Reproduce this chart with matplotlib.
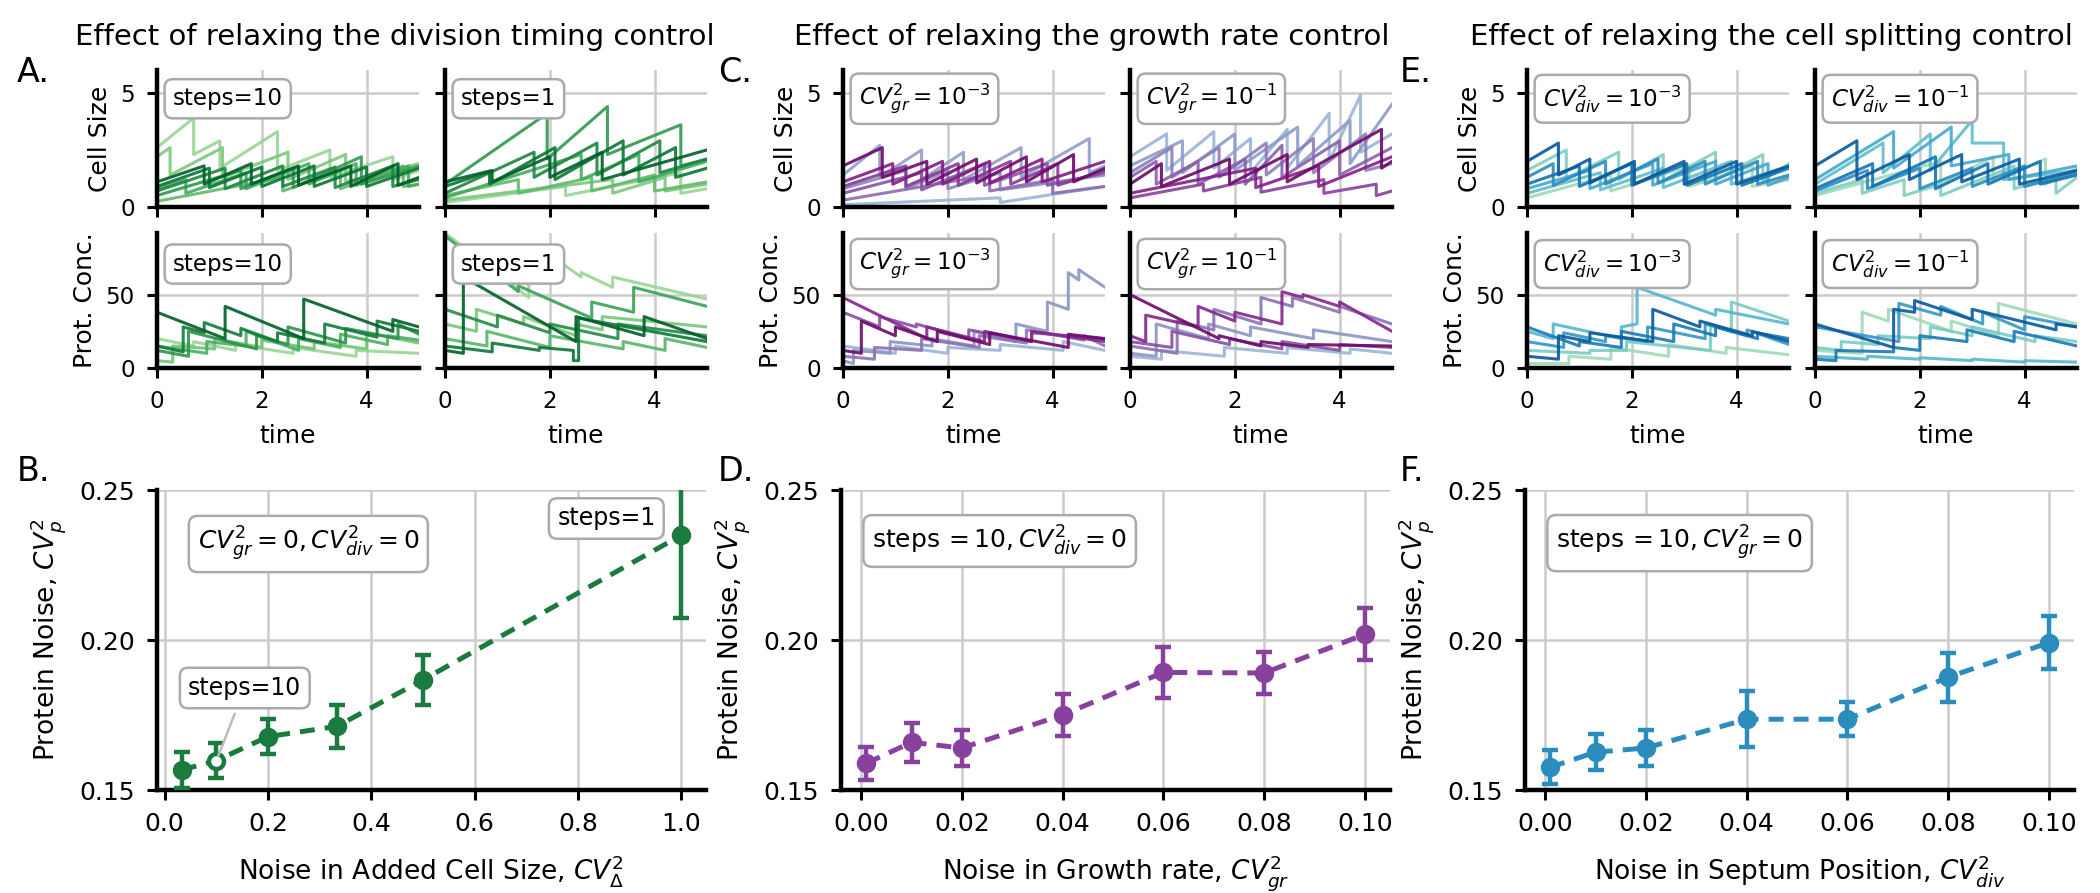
import numpy as np
import matplotlib
matplotlib.use("Agg")
import matplotlib.pyplot as plt

# ---- bottom row data ----
B_x = [0.033, 0.1, 0.2, 0.333, 0.5, 1.0]
B_y = [0.1567, 0.1598, 0.1678, 0.1712, 0.1867, 0.2349]
B_err = [0.0060, 0.0058, 0.0058, 0.0072, 0.0083, 0.0274]

D_x = [0.001, 0.01, 0.02, 0.04, 0.06, 0.08, 0.10]
D_y = [0.1589, 0.1659, 0.1640, 0.1750, 0.1892, 0.1890, 0.2019]
D_err = [0.0055, 0.0065, 0.0060, 0.0071, 0.0085, 0.0069, 0.0087]

F_x = [0.001, 0.01, 0.02, 0.04, 0.06, 0.08, 0.10]
F_y = [0.1576, 0.1626, 0.1640, 0.1736, 0.1736, 0.1876, 0.1991]
F_err = [0.0057, 0.0060, 0.0059, 0.0094, 0.0057, 0.0082, 0.0088]

# ---- trajectories: (start value, [(t, value before jump, value after jump), ...], value at t=5) ----
A_size_left = [
    (2.6, [(0.7, 3.9, 2.3), (1.2, 2.9, 1.7), (2.3, 3.3, 1.6), (3.3, 2.5, 1.3), (4.5, 2.2, 1.2)], 1.6),
    (2.2, [(0.25, 2.6, 1.4), (1.25, 2.6, 1.3), (2.5, 2.4, 1.2), (3.6, 2.3, 1.1)], 1.9),
    (0.25, [(2.4, 1.3, 0.7), (3.5, 1.6, 0.8), (4.7, 1.8, 0.9)], 1.0),
    (0.8, [(0.55, 1.2, 0.6), (1.7, 1.5, 0.8), (2.9, 1.9, 1.0), (3.8, 1.9, 0.95), (4.8, 1.8, 0.9)], 1.0),
    (0.5, [(1.6, 1.6, 0.8), (2.6, 1.7, 0.85), (3.9, 2.2, 1.0)], 1.8),
    (0.7, [(1.3, 1.7, 0.8), (2.4, 1.8, 0.9), (3.4, 1.75, 0.85), (4.5, 1.8, 0.9)], 1.2),
    (0.9, [(1.0, 1.7, 0.85), (2.0, 1.75, 0.9), (3.0, 1.8, 0.9), (4.0, 1.75, 0.9)], 1.7),
    (1.1, [(0.9, 1.8, 1.0), (1.8, 1.9, 1.0), (2.7, 1.8, 0.95), (3.7, 1.8, 0.9), (4.6, 1.9, 0.95)], 1.3),
]
A_size_right = [
    (0.2, [(2.3, 0.9, 0.5), (4.5, 1.5, 0.6)], 0.8),
    (0.3, [(3.2, 1.2, 0.6), (4.2, 1.3, 0.7)], 1.0),
    (0.5, [(1.4, 1.2, 0.6), (2.8, 1.3, 0.7), (4.0, 1.4, 0.7)], 1.1),
    (0.4, [(2.6, 2.3, 1.2), (3.7, 2.3, 1.1)], 2.0),
    (1.0, [(1.95, 4.1, 2.1), (3.1, 4.4, 2.3), (4.5, 3.6, 1.8)], 2.1),
    (0.6, [(1.7, 2.4, 1.3), (2.9, 2.8, 1.4), (4.1, 2.9, 1.5)], 2.1),
    (0.9, [(0.85, 1.55, 1.0), (2.1, 2.6, 1.2), (3.4, 2.9, 1.4), (4.4, 2.6, 1.3)], 1.7),
    (1.1, [(0.9, 1.6, 1.1), (2.0, 2.2, 1.3), (3.0, 2.4, 1.2)], 2.5),
]
A_conc_left = [
    (20, [(0.7, 15, 18), (1.5, 12, 16), (2.6, 10, 14), (3.8, 8, 12)], 10),
    (5, [(0.3, 4, 15), (1.1, 13, 20), (2.0, 14, 19), (3.0, 13, 18), (4.0, 13, 24)], 17),
    (15, [(0.95, 10, 18), (1.7, 15, 25), (2.7, 12, 20), (3.5, 14, 23), (4.4, 16, 22)], 19),
    (12, [(0.6, 8, 25), (1.9, 13, 22), (2.5, 16, 28), (3.6, 17, 27), (4.6, 20, 30)], 23),
    (15, [(0.5, 11, 28), (0.9, 24, 31), (1.6, 22, 27), (2.3, 18, 24), (3.2, 17, 30), (4.2, 21, 32)], 25),
    (38, [(1.3, 20, 42), (2.8, 20, 47), (4.5, 25, 33)], 28),
]
A_conc_right = [
    (92, [(1.6, 48, 70), (2.2, 62, 72), (2.6, 62, 65), (3.2, 55, 62)], 47),
    (30, [(0.6, 25, 40), (1.5, 30, 35), (2.5, 22, 30), (3.0, 26, 35)], 28),
    (20, [(0.8, 15, 25), (2.0, 14, 22), (3.4, 13, 18), (4.2, 12, 20)], 14),
    (90, [(1.4, 52, 56), (2.8, 34, 45), (3.6, 38, 55)], 42),
    (40, [(1.0, 28, 36), (2.0, 24, 30), (3.3, 20, 30)], 22),
    (15, [(0.9, 11, 17), (1.8, 12, 14), (2.45, 12, 5), (2.55, 5, 34)], 18),
    (12, [(0.35, 10, 62), (2.5, 18, 35), (3.8, 22, 35)], 20),
]
C_size_left = [
    (0.1, [(3.0, 0.4, 0.2)], 0.9),
    (1.4, [(0.7, 2.7, 1.3), (1.5, 2.5, 1.2), (2.3, 2.4, 1.2), (3.4, 2.6, 1.3), (4.7, 3.0, 1.5)], 1.8),
    (0.8, [(1.2, 1.6, 0.8), (2.0, 1.6, 0.8), (3.0, 1.5, 0.75)], 1.4),
    (0.3, [(2.8, 1.4, 0.7), (4.0, 1.2, 0.6)], 0.9),
    (0.6, [(1.5, 1.5, 0.75), (2.7, 1.9, 0.95), (3.9, 1.9, 0.95)], 1.5),
    (0.9, [(1.2, 1.8, 0.9), (2.2, 1.9, 0.95), (3.2, 2.0, 1.0), (4.1, 1.9, 0.95)], 1.6),
    (1.1, [(0.95, 1.9, 1.0), (1.9, 2.0, 1.0), (2.8, 2.0, 1.05), (3.8, 2.1, 1.1)], 2.0),
    (1.8, [(0.75, 2.6, 1.3), (1.6, 2.0, 1.0), (2.55, 2.1, 1.05), (3.5, 2.2, 1.1), (4.4, 2.3, 1.1)], 1.7),
]
C_size_right = [
    (2.2, [(0.7, 3.2, 1.6), (1.6, 3.3, 1.7), (2.3, 3.0, 1.5), (3.0, 3.4, 1.7), (3.8, 4.1, 2.0), (4.4, 4.9, 2.4)], 3.2),
    (1.8, [(1.0, 2.9, 1.5), (2.0, 3.2, 1.6), (3.2, 3.5, 1.8), (4.2, 3.8, 1.9)], 4.5),
    (1.5, [(0.8, 2.6, 1.3), (1.7, 2.6, 1.3), (2.6, 2.8, 1.4), (3.5, 3.0, 1.5), (4.5, 3.2, 1.6)], 1.9),
    (1.3, [(0.5, 2.0, 1.0), (1.3, 2.0, 1.0), (2.2, 2.1, 1.0), (2.9, 2.7, 1.3), (4.0, 2.9, 1.4)], 2.6),
    (0.4, [(1.4, 1.0, 0.7), (2.5, 1.3, 0.65), (3.7, 1.2, 0.6), (4.7, 1.0, 0.5)], 0.7),
    (0.6, [(2.4, 1.7, 0.85), (3.6, 1.8, 0.9)], 2.2),
    (1.0, [(0.6, 1.9, 0.9), (1.9, 2.1, 1.0), (3.0, 2.3, 1.1), (4.8, 3.4, 1.7)], 2.0),
]
C_conc_left = [
    (15, [(1.0, 10, 15), (2.0, 10, 14), (3.0, 12, 16), (4.2, 12, 18)], 12),
    (5, [(0.2, 3, 12), (0.9, 10, 18), (1.7, 15, 20), (2.5, 15, 25), (3.3, 18, 30), (3.9, 25, 45), (4.3, 40, 65), (4.5, 60, 67)], 55),
    (8, [(0.6, 6, 14), (1.5, 12, 20), (2.6, 14, 22), (3.5, 17, 26), (4.6, 19, 22)], 15),
    (38, [(0.7, 28, 35), (1.4, 28, 30), (2.4, 20, 26), (3.6, 18, 24)], 20),
    (48, [(1.6, 20, 28), (2.7, 18, 25), (3.6, 18, 25)], 18),
    (12, [(0.35, 10, 32), (1.0, 22, 28), (1.8, 18, 25), (2.8, 16, 24), (4.3, 14, 23)], 20),
]
C_conc_right = [
    (8, [(0.6, 6, 12), (1.8, 8, 14), (3.0, 10, 14), (4.2, 10, 13)], 10),
    (10, [(0.5, 8, 30), (1.5, 20, 30), (2.3, 22, 28), (3.5, 20, 26)], 18),
    (15, [(0.9, 10, 32), (1.6, 26, 40), (2.5, 30, 48), (3.1, 42, 48), (4.0, 38, 42)], 30),
    (18, [(0.8, 14, 25), (1.9, 16, 20), (2.9, 13, 18), (4.0, 12, 16)], 14),
    (22, [(0.3, 18, 36), (1.3, 28, 42), (2.0, 32, 38), (2.9, 30, 52), (3.3, 48, 50), (4.0, 42, 45)], 25),
    (50, [(1.7, 20, 22), (2.5, 15, 18), (3.4, 14, 16)], 15),
]
E_size_left = [
    (0.4, [(1.6, 1.4, 0.7), (3.1, 1.8, 0.9), (4.3, 1.8, 0.9)], 1.2),
    (1.6, [(0.75, 2.5, 1.25), (1.75, 2.4, 1.2), (2.6, 2.3, 1.15), (3.6, 2.4, 1.2), (4.5, 2.3, 1.15)], 1.9),
    (0.6, [(1.4, 1.5, 0.75), (2.6, 1.7, 0.85), (3.9, 2.0, 1.0)], 1.8),
    (0.8, [(1.2, 1.6, 0.8), (2.4, 1.9, 0.95), (3.6, 2.0, 1.0), (4.6, 1.9, 0.95)], 1.3),
    (1.3, [(0.5, 1.9, 0.95), (1.5, 2.0, 1.0), (2.5, 2.1, 1.05), (3.4, 2.0, 1.0), (4.4, 2.0, 1.0)], 1.4),
    (1.0, [(1.0, 1.8, 0.9), (2.0, 1.9, 0.95), (3.05, 1.9, 0.95), (4.1, 1.9, 0.95)], 1.7),
    (2.0, [(0.6, 2.8, 1.4), (1.2, 2.1, 1.05), (2.05, 2.0, 1.0), (3.0, 2.0, 1.0), (4.0, 2.0, 1.0)], 1.8),
]
E_size_right = [
    (0.5, [(2.4, 2.0, 1.0), (3.4, 2.2, 1.1), (4.4, 2.1, 1.0)], 1.7),
    (0.6, [(0.9, 1.2, 0.6), (1.7, 1.2, 0.5), (2.4, 1.0, 0.5), (3.8, 1.8, 0.8), (4.6, 1.3, 0.6)], 1.3),
    (1.0, [(1.3, 2.8, 1.5), (2.2, 3.2, 1.6), (3.0, 3.8, 2.8), (3.6, 2.8, 1.2)], 1.6),
    (1.2, [(1.5, 3.3, 1.7), (2.6, 3.5, 1.8), (3.7, 2.3, 1.2)], 1.8),
    (0.7, [(1.0, 1.6, 0.8), (2.0, 1.7, 0.8), (3.0, 1.7, 0.9), (4.0, 1.8, 0.9)], 1.5),
    (0.8, [(1.1, 1.9, 0.9), (2.3, 2.2, 0.8), (3.3, 1.9, 1.0), (4.3, 2.0, 1.0)], 1.4),
    (1.8, [(0.8, 2.9, 1.2), (1.8, 2.3, 1.2), (2.8, 2.3, 1.1), (3.9, 2.1, 1.0)], 1.6),
]
E_conc_left = [
    (3, [(0.8, 3, 8), (1.6, 6, 14), (2.7, 8, 16), (3.8, 10, 14)], 9),
    (12, [(1.2, 10, 12), (1.9, 12, 18), (3.5, 12, 30), (3.9, 25, 45)], 32),
    (25, [(0.5, 20, 30), (1.8, 20, 28), (2.1, 30, 55), (3.6, 36, 40)], 30),
    (18, [(0.7, 14, 24), (1.5, 18, 22), (2.3, 18, 28), (3.4, 20, 30), (4.2, 22, 26)], 16),
    (28, [(1.0, 15, 18), (1.8, 14, 25), (2.8, 18, 30), (3.6, 22, 28), (4.4, 20, 24)], 20),
    (8, [(0.6, 6, 22), (1.2, 18, 24), (2.4, 18, 40), (3.3, 28, 32), (4.3, 22, 25)], 18),
]
E_conc_right = [
    (12, [(0.9, 10, 38), (1.4, 32, 40), (2.6, 25, 32), (3.5, 22, 44)], 30),
    (14, [(0.5, 12, 18), (1.2, 16, 22), (2.2, 20, 28), (3.0, 22, 28), (4.2, 18, 22)], 18),
    (8, [(1.0, 6, 8), (2.0, 6, 7), (3.0, 5, 6), (4.0, 4, 5)], 4),
    (28, [(1.6, 18, 44), (2.4, 36, 42), (3.2, 30, 38), (4.0, 26, 35)], 28),
    (6, [(0.4, 5, 12), (1.5, 11, 14), (2.0, 12, 22), (2.9, 18, 26), (3.8, 18, 25)], 15),
    (30, [(1.5, 14, 40), (1.9, 38, 46), (3.0, 33, 40), (4.6, 26, 30)], 28),
]

TITLES = [
    "Effect of relaxing the division timing control",
    "Effect of relaxing the growth rate control",
    "Effect of relaxing the cell splitting control",
]

W, H = 2100, 893
fig = plt.figure(figsize=(W / 200, H / 200), dpi=200)
plt.rcParams["mathtext.fontset"] = "dejavusans"

GRID = "#cccccc"
BOX = dict(boxstyle="round,pad=0.35", fc="white", ec="#aaaaaa", lw=0.9)


def px_axes(x0, y_top, w, h):
    return fig.add_axes([x0 / W, 1 - (y_top + h) / H, w / W, h / H])


def style(ax, fs=8):
    for s in ("top", "right"):
        ax.spines[s].set_visible(False)
    for s in ("left", "bottom"):
        ax.spines[s].set_linewidth(1.6)
    ax.tick_params(labelsize=fs, length=3.5, width=1.1, pad=4.5)
    ax.grid(True, color=GRID, lw=0.9)
    ax.set_axisbelow(True)


def draw_traces(ax, traces, cmap):
    cols = plt.get_cmap(cmap)(np.linspace(0.4, 0.92, len(traces)))
    for (y0, events, yend), c in zip(traces, cols):
        ts, ys = [0.0], [y0]
        for t, before, after in events:
            ts += [t, t]
            ys += [before, after]
        ts.append(5.0)
        ys.append(yend)
        ax.plot(ts, ys, color=c, lw=1.1, alpha=0.9)


groups = [
    ("Greens", [157, 445], (A_size_left, A_size_right), (A_conc_left, A_conc_right),
     ["steps=10", "steps=1"]),
    ("BuPu", [843, 1130], (C_size_left, C_size_right), (C_conc_left, C_conc_right),
     [r"$CV^2_{gr}=10^{-3}$", r"$CV^2_{gr}=10^{-1}$"]),
    ("GnBu", [1527, 1815], (E_size_left, E_size_right), (E_conc_left, E_conc_right),
     [r"$CV^2_{div}=10^{-3}$", r"$CV^2_{div}=10^{-1}$"]),
]

for cmap, xs, sizes, concs, labels in groups:
    for j in range(2):
        ax1 = px_axes(xs[j], 70, 262, 137)
        ax2 = px_axes(xs[j], 233, 262, 135)
        draw_traces(ax1, sizes[j], cmap)
        draw_traces(ax2, concs[j], cmap)
        ax1.set_ylim(0, 6)
        ax1.set_yticks([0, 5])
        ax2.set_ylim(0, 92)
        ax2.set_yticks([0, 50])
        for ax in (ax1, ax2):
            ax.set_xlim(0, 5)
            ax.set_xticks([0, 2, 4])
            style(ax, 8.3)
            ax.text(0.06, 0.79 if ax is ax1 else 0.77, labels[j], transform=ax.transAxes,
                    fontsize=8.3, ha="left", va="center", bbox=BOX, zorder=5)
        ax1.tick_params(labelbottom=False)
        ax2.set_xlabel("time", fontsize=9, labelpad=4)
        if j == 0:
            ax1.set_ylabel("Cell Size", fontsize=9, labelpad=3)
            ax2.set_ylabel("Prot. Conc.", fontsize=9, labelpad=3)
        else:
            ax1.tick_params(labelleft=False)
            ax2.tick_params(labelleft=False)

# bottom row
bottom = [
    (157, B_x, B_y, B_err, "#1b7a3d", [0, 0.2, 0.4, 0.6, 0.8, 1.0], (-0.015, 1.048),
     r"Noise in Added Cell Size, $CV^2_\Delta$", r"$CV^2_{gr}=0, CV^2_{div}=0$", (0.278, 0.232)),
    (841, D_x, D_y, D_err, "#88419d", [0, 0.02, 0.04, 0.06, 0.08, 0.10], (-0.004, 0.105),
     r"Noise in Growth rate, $CV^2_{gr}$", r"steps$\,=10, CV^2_{div}=0$", (0.0275, 0.233)),
    (1525, F_x, F_y, F_err, "#2b8cbe", [0, 0.02, 0.04, 0.06, 0.08, 0.10], (-0.004, 0.105),
     r"Noise in Septum Position, $CV^2_{div}$", r"steps$\,=10, CV^2_{gr}=0$", (0.0267, 0.2323)),
]
bottom_axes = []
for x0, xv, yv, ev, col, xt, xl, xlab, box, bpos in bottom:
    ax = px_axes(x0, 490, 549, 300)
    ax.errorbar(xv, yv, yerr=ev, fmt="o", color=col, ms=6, capsize=3,
                elinewidth=1.6, capthick=1.6, zorder=3)
    ax.plot(xv, yv, color=col, lw=1.8, dashes=(3, 2), zorder=2)
    ax.set_xlim(*xl)
    ax.set_ylim(0.15, 0.25)
    ax.set_xticks(xt)
    ax.set_yticks([0.15, 0.20, 0.25])
    if xt[1] == 0.2:
        ax.set_xticklabels([f"{v:.1f}" for v in xt])
    else:
        ax.set_xticklabels([f"{v:.2f}" for v in xt])
    ax.set_yticklabels(["0.15", "0.20", "0.25"])
    style(ax, 9)
    ax.set_xlabel(xlab, fontsize=9.5, labelpad=6)
    ax.set_ylabel(r"Protein Noise, $CV^2_p$", fontsize=9.5, labelpad=4)
    ax.text(bpos[0], bpos[1], box, fontsize=9, ha="center", va="center", bbox=BOX, zorder=5)
    bottom_axes.append(ax)

axB = bottom_axes[0]
axB.plot([B_x[1]], [B_y[1]], "o", ms=5, mfc="white", mec="#1b7a3d", mew=1.2, zorder=4)
axB.annotate("steps=10", xy=(B_x[1], B_y[1]), xytext=(0.155, 0.184), fontsize=8.5,
             ha="center", va="center", bbox=BOX, zorder=5,
             arrowprops=dict(arrowstyle="-", color="#bbbbbb", lw=0.9))
axB.text(0.855, 0.2405, "steps=1", fontsize=8.5, ha="center", va="center", bbox=BOX, zorder=5)

# titles and panel letters
for txt, xc in zip(TITLES, [395, 1092, 1771]):
    fig.text(xc / W, 1 - 37 / H, txt, fontsize=10.5, ha="center", va="center")
for letter, x, y in [("A.", 17, 73), ("B.", 17, 472), ("C.", 718, 73),
                     ("D.", 718, 472), ("E.", 1400, 73), ("F.", 1400, 472)]:
    fig.text(x / W, 1 - y / H, letter, fontsize=12, ha="left", va="center")

fig.savefig("out.png", dpi=200)
